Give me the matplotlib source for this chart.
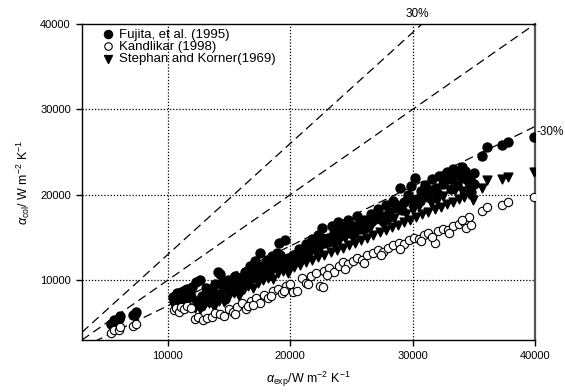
import matplotlib
matplotlib.use("Agg")
import matplotlib.pyplot as plt
import numpy as np

plt.rcParams['font.family'] = ['Liberation Sans', 'DejaVu Sans']
plt.rcParams['mathtext.fontset'] = 'custom'
plt.rcParams['mathtext.rm'] = 'Liberation Sans'
plt.rcParams['mathtext.it'] = 'Liberation Sans:italic'

# Fujita, et al. (1995)
fujita_x = [5400, 5600, 6000, 6100, 7200, 7400, 7300,
            10500, 10600, 10800, 10900, 11100, 11300, 11600, 11800, 12000, 10700, 11000,
            12300, 12600, 12400, 12700, 12900, 13100, 13300, 13500, 13700, 13900, 14100,
            14300, 14200, 14500, 14700, 14900, 15100, 15300, 15500, 15700, 15900,
            16100, 16300, 16500, 16700, 16900, 17100, 17300, 17500, 17700, 17900,
            18100, 18300, 18500, 18700, 18900, 19100, 19300, 19600, 19800, 20000,
            20200, 20500, 20700, 21000, 21300, 21500, 21800, 22000, 22300, 22600,
            22800, 23100, 23400, 23600, 23900, 24100, 24400, 24700, 24900,
            25200, 25500, 25700, 26000, 26300, 26600, 26900, 27200, 27500, 27800,
            28100, 28400, 28700, 29000, 29300, 29600, 29900, 30200, 30400,
            30700, 31000, 31300, 31600, 31900, 32200, 32500, 32800, 33100, 33300,
            33600, 34000, 34300, 34700, 35000,
            35700, 36100, 37300, 37800, 39900,
            10400, 10900, 11400, 11900, 12800, 13200, 13600, 14000, 14400, 14800,
            15200, 15600, 16000, 16400, 16800, 17200, 17600, 18000, 18400, 18800,
            19200, 19600, 20100, 20600, 21100, 21600, 22100, 22600, 23100, 23600,
            24100, 24600, 25100, 25600, 26100, 26600, 27100, 27600, 28100, 28600,
            29100, 29600, 30100, 30600, 31100, 31600, 32100, 32600, 33100, 33600,
            34100, 34600, 35000, 34800]
fujita_y = [4900, 5300, 5400, 5800, 5900, 6300, 6100,
            7600, 8200, 8500, 7900, 8600, 8100, 9000, 8400, 9200, 7100, 7400,
            9800, 10000, 7600, 7000, 7300, 9100, 7900, 8600, 7500, 9600, 11000,
            10700, 8300, 9300, 7800, 10000, 8700, 9900, 10500, 9200, 8800,
            10400, 11000, 9600, 11700, 10200, 12200, 11300, 13200, 10600, 11800,
            12400, 11000, 12800, 11500, 13200, 14400, 12000, 14700, 12600, 11800,
            13000, 12300, 13600, 12800, 14200, 13300, 14800, 13700, 15300, 16100,
            14300, 15000, 16400, 14600, 16800, 15200, 16000, 17100, 15500,
            16300, 17500, 16000, 17000, 16500, 17700, 17200, 18300, 17500, 18800,
            18000, 19300, 18500, 20800, 19200, 20000, 21000, 22000, 19500,
            20500, 21200, 19800, 21800, 20800, 22200, 21300, 22700, 21800, 23000,
            22300, 23300, 22800, 21900, 22500,
            24600, 25600, 25800, 26200, 26800,
            8000, 7700, 8800, 8000, 8200, 7800, 8900, 8400, 9800, 9000,
            9400, 9700, 9900, 10700, 10900, 10500, 11600, 11200, 11800, 12300,
            12900, 11600, 12600, 13100, 13500, 14000, 14100, 14900, 14500, 15500,
            15900, 16300, 15400, 16500, 16100, 16800, 17900, 16900, 17400, 18900,
            18200, 19600, 18900, 19300, 20200, 20600, 20100, 21600, 20700, 21200,
            22000, 22300, 21300, 20300]

# Kandlikar (1998)
kand_x = [5400, 5600, 6000, 6100, 7200, 7400,
          10500, 10700, 10900, 11100, 11300, 11600, 11900,
          12200, 12500, 12900, 13200, 13600, 13900, 14300, 14600, 15000, 15300, 15700,
          16100, 16400, 16800, 17200, 17500, 17900, 18200, 18600, 19000, 19300, 19700,
          20000, 20200, 20600, 21000, 21300, 21700, 22100, 22400, 22700, 22800, 23200,
          23600, 24000, 24300, 24700, 25100, 25500, 25900, 26300, 26800, 27200, 27600,
          28000, 28400, 28900, 29300, 29700, 30100, 30500, 30900, 31300, 31800, 32100,
          32500, 32900, 33300, 33800, 34200, 34400, 34600,
          35700, 36100, 37300, 37800, 39900,
          15500, 16600, 17000, 18400, 19500, 21500, 23000, 24500, 26000, 27400,
          29000, 30700, 31600, 33000, 34800, 34000]
kand_y = [3800, 4200, 4200, 4500, 4600, 4900,
          6500, 6700, 6300, 6900, 6600, 7000, 6800,
          5400, 5700, 5300, 5600, 5700, 6200, 6000, 5800, 6600, 6300, 6900,
          7300, 6600, 7600, 7900, 7300, 8300, 7900, 8700, 9000, 8500, 9300,
          9600, 8600, 8700, 10200, 9700, 10500, 10800, 9300, 9200, 11100, 11400,
          11000, 11700, 12100, 11900, 12300, 12600, 12400, 12900, 13200, 13500, 13300,
          13800, 14100, 14400, 14200, 14700, 15000, 14800, 15300, 15500, 14300, 15800,
          16000, 15900, 16300, 16600, 16800, 16100, 17400,
          18100, 18600, 18800, 19100, 19700,
          6100, 7000, 7100, 8100, 8700, 9500, 10600, 11300, 12000, 12900,
          13700, 14600, 15100, 15500, 16500, 17100]

# Stephan and Korner (1969)
steph_x = [5500, 6000, 7300, 10600, 11000, 11500, 12200, 12600, 13000, 13400,
           13800, 14200, 14600, 15000, 15400, 15800, 16000, 16200, 16600, 17000,
           17400, 17800, 18000, 18200, 18600, 19000, 19400, 19800, 20000, 20300,
           20800, 21300, 21800, 22000, 22300, 22800, 23300, 23800, 24000, 24300,
           24800, 25300, 25800, 26000, 26300, 26800, 27300, 27800, 28000, 28300,
           28800, 29300, 29800, 30000, 30300, 30800, 31300, 31800, 32000, 32300,
           32800, 33300, 33800, 34000, 34200, 34600,
           35700, 36100, 37300, 37800, 39900,
           20500, 21500, 22500, 23500, 24500, 25500, 26500, 27500, 28500, 29500,
           30500, 31500, 32500, 33500, 34500, 34900, 16800, 17600, 18400, 19200]
steph_y = [4700, 5000, 5500, 6900, 7200, 7500, 6800, 6600, 7100, 7300,
           6900, 7600, 7400, 8100, 8500, 8200, 9800, 9000, 9300, 9100,
           9700, 10000, 11000, 10300, 10100, 10800, 11100, 10900, 12200, 11500,
           11800, 12100, 12400, 13400, 12700, 13000, 13300, 13500, 14600, 13800,
           14100, 14400, 14700, 15800, 15000, 15300, 15600, 15900, 17000, 16200,
           16500, 16800, 17100, 18200, 17400, 17700, 18000, 18300, 19300, 18600,
           18900, 19200, 19500, 20400, 19700, 20100,
           20800, 21700, 21800, 22100, 22700,
           12800, 13000, 13900, 14300, 14900, 15600, 16100, 16800, 17300, 17800,
           18700, 19000, 19900, 20600, 21000, 19400, 10100, 10600, 11400, 11900]

# deviation lines (+30 %, 0 %, -30 %)
ratios = [1.3, 1.0, 0.7]

fig = plt.figure(figsize=(5.65, 3.92), dpi=100)
ax = fig.add_axes([0.1451, 0.1327, 0.8018, 0.806])

xl = np.array([3000, 40000])
for r in ratios:
    ax.plot(xl, r * xl, color='black', lw=0.9, ls=(0, (7, 4)), zorder=2)

ax.scatter(steph_x, steph_y, s=40, marker='v', color='black', zorder=3,
           label='Stephan and Korner(1969)')
ax.scatter(fujita_x, fujita_y, s=42, marker='o', color='black', zorder=4,
           label='Fujita, et al. (1995)')
ax.scatter(kand_x, kand_y, s=36, marker='o', facecolor='white', edgecolor='black',
           linewidths=0.8, zorder=5, label='Kandlikar (1998)')

ax.set_xlim(3000, 40000)
ax.set_ylim(3000, 40000)
ax.set_xticks([10000, 20000, 30000, 40000])
ax.set_yticks([10000, 20000, 30000, 40000])
ax.tick_params(direction='out', length=4, width=1, labelsize=8, pad=4)
for v in [10000, 20000, 30000]:
    ax.axvline(v, color='black', lw=0.9, ls=(0, (1, 1.5)), zorder=1)
    ax.axhline(v, color='black', lw=0.9, ls=(0, (1, 1.5)), zorder=1)
for s in ['left', 'bottom', 'top']:
    ax.spines[s].set_linewidth(1)
ax.spines['right'].set_linewidth(1.6)
ax.spines['right'].set_color('#555555')

ax.set_xlabel(r'$\alpha_{\rm exp}$/W m$^{-2}$ K$^{-1}$', fontsize=9, labelpad=6)
ax.set_ylabel(r'$\alpha_{\rm col}$/ W m$^{-2}$ K$^{-1}$', fontsize=9, labelpad=6)

ax.text(30400, 40500, '30%', fontsize=8.5, ha='center', va='bottom')
ax.text(40150, 27400, '-30%', fontsize=8.5, ha='left', va='center', clip_on=False)

handles, labels = ax.get_legend_handles_labels()
order = [1, 2, 0]
ax.legend([handles[i] for i in order], [labels[i] for i in order],
          loc='upper left', bbox_to_anchor=(0.02, 1.02), frameon=False, fontsize=9.5,
          handletextpad=0.3, labelspacing=0.0, borderpad=0.3, handlelength=1.0,
          scatterpoints=1, markerscale=0.9)

fig.savefig('out.png', dpi=100)
